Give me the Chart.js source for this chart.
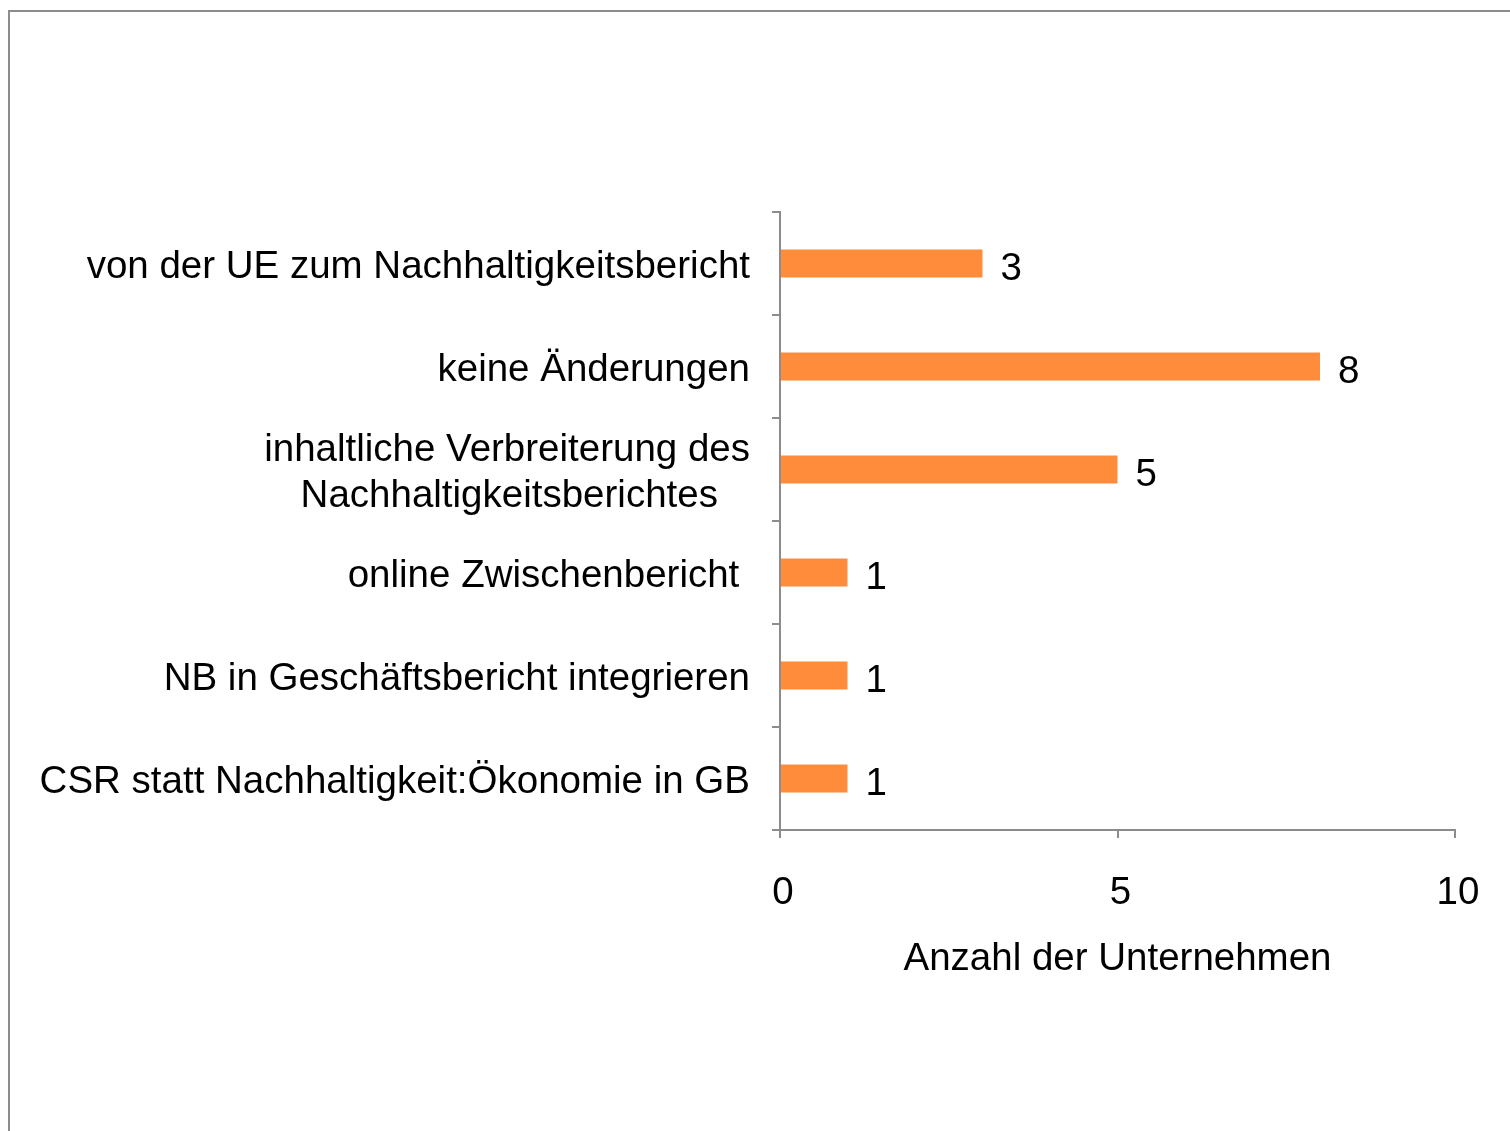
<!DOCTYPE html>
<html>
<head>
<meta charset="utf-8">
<script src="https://cdn.jsdelivr.net/npm/chart.js@4/dist/chart.umd.min.js"></script>
<style>
  html, body { margin: 0; padding: 0; background: #fff; overflow: hidden; }
  #frame { position: absolute; left: 8px; top: 10px; width: 1600px; height: 1300px;
           border-top: 2px solid #8c8c8c; border-left: 2px solid #8c8c8c; }
  #wrap { position: absolute; left: 0; top: 0; width: 1510px; height: 1131px; }
</style>
</head>
<body>
<div id="frame"></div>
<div id="wrap"><canvas id="myChart" width="1510" height="1131"></canvas></div>
<script>
const categories = [
    "von der UE zum Nachhaltigkeitsbericht",
    "keine Änderungen",
    ["inhaltliche Verbreiterung des", "Nachhaltigkeitsberichtes   "],
    "online Zwischenbericht ",
    "NB in Geschäftsbericht integrieren",
    "CSR statt Nachhaltigkeit:Ökonomie in GB"
];
const counts = [3, 8, 5, 1, 1, 1];
const xTicks = [0, 5, 10];
const axisTitle = "Anzahl der Unternehmen";

const FONT = "'Liberation Sans', Arial, sans-serif";
const SIZE = 38.5;

// little value labels next to the bars
const valueLabels = {
    id: 'valueLabels',
    afterDatasetsDraw(chart) {
        const ctx = chart.ctx;
        const meta = chart.getDatasetMeta(0);
        ctx.save();
        ctx.font = SIZE + "px " + FONT;
        ctx.fillStyle = "#000";
        ctx.textAlign = "left";
        ctx.textBaseline = "middle";
        meta.data.forEach((bar, i) => {
            ctx.fillText(String(counts[i]), bar.x + 18, bar.y + 6);
        });
        ctx.restore();
    }
};

const ctx = document.getElementById('myChart').getContext('2d');
var myChart = new Chart(ctx, {
    type: "bar",
    data: {
        labels: categories,
        datasets: [{
            data: counts,
            backgroundColor: "#FF8C3A",
            borderWidth: 0,
            barPercentage: 0.6,
            categoryPercentage: 0.45
        }]
    },
    options: {
        indexAxis: 'y',
        responsive: false,
        animation: false,
        layout: { padding: { top: 212, right: 55, left: 0, bottom: 0 } },
        plugins: { legend: { display: false }, tooltip: { enabled: false } },
        scales: {
            y: {
                afterFit: (s) => { s.width = 780; },
                grid: { drawOnChartArea: false, drawTicks: true, tickLength: 8, color: "#8c8c8c", lineWidth: 2, offset: true },
                border: { display: true, color: "#8c8c8c", width: 2 },
                ticks: { color: "#000", font: { family: FONT, size: SIZE }, padding: 22, crossAlign: 'near', autoSkip: false, labelOffset: 4 }
            },
            x: {
                min: 0, max: 10,
                afterFit: (s) => { s.height = 1131 - 830; },
                afterBuildTicks: (s) => { s.ticks = xTicks.map(v => ({ value: v })); },
                grid: { drawOnChartArea: false, drawTicks: true, tickLength: 8, color: "#8c8c8c", lineWidth: 2 },
                border: { display: true, color: "#8c8c8c", width: 2 },
                ticks: { color: "#000", font: { family: FONT, size: SIZE }, padding: 32, maxRotation: 0, labelOffset: 3 },
                title: { display: true, text: axisTitle, color: "#000", font: { family: FONT, size: SIZE }, padding: { top: 0, bottom: 149 } }
            }
        }
    },
    plugins: [valueLabels]
});
</script>
</body>
</html>
